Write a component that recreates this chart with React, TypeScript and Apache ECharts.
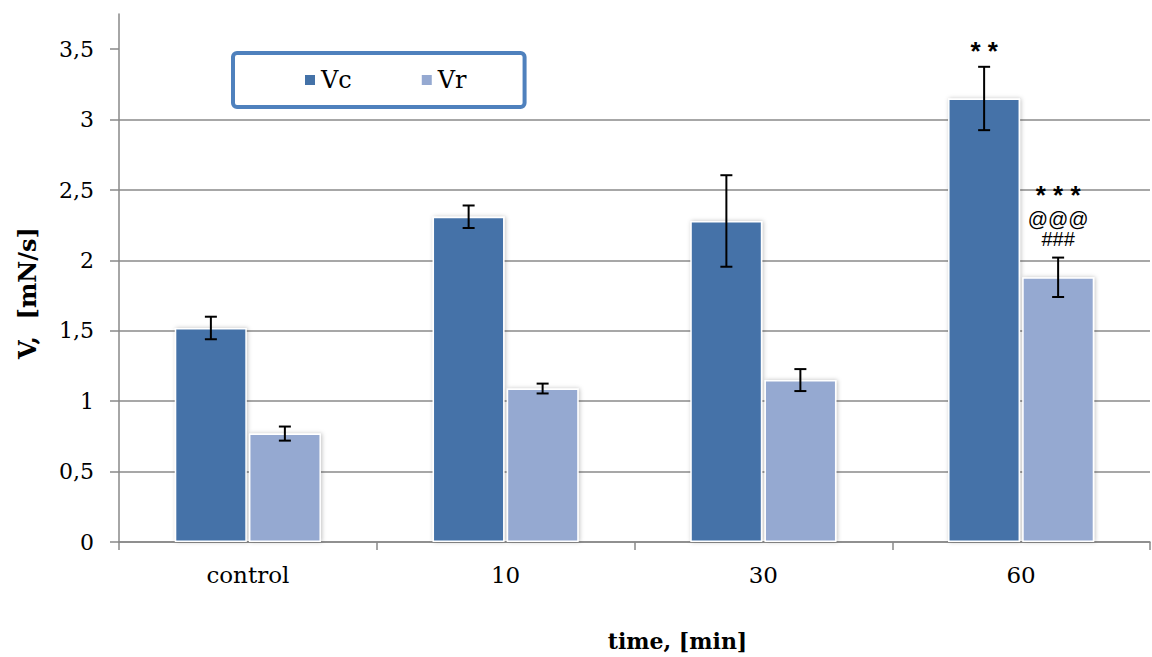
import React, { useEffect, useRef } from "react";
import * as echarts from "echarts";

const categories = ["control", "10", "30", "60"];
const vcValues = [1.52, 2.31, 2.28, 3.15];
const vcErrors = [0.08, 0.08, 0.325, 0.225];
const vrValues = [0.77, 1.09, 1.15, 1.88];
const vrErrors = [0.05, 0.035, 0.078, 0.14];
const yTicks = [0, 0.5, 1, 1.5, 2, 2.5, 3, 3.5];
// annotations: [categoryIndex, seriesIndex (0 = Vc, 1 = Vr), lines from top to bottom]
const annotations: [number, number, string[]][] = [
  [3, 0, ["* *"]],
  [3, 1, ["* * *", "@@@", "###"]],
];

const VC_COLOR = "#4472A8";
const VR_COLOR = "#95A9D1";
const BAR_W = 72;
const HALF_STEP = 37;

export default function App() {
  const ref = useRef<HTMLDivElement>(null);
  useEffect(() => {
    if (!ref.current) return;
    const chart = echarts.init(ref.current, null, { renderer: "svg" });
    const errData = (vals: number[], errs: number[]) =>
      vals.map((v, i) => [i, v, errs[i]]);
    const errSeries = (name: string, vals: number[], errs: number[], sign: number) => ({
      type: "custom",
      name: name + "err",
      z: 5,
      silent: true,
      data: errData(vals, errs),
      renderItem: (params: any, api: any) => {
        const ci = api.value(0);
        const v = api.value(1);
        const e = api.value(2);
        const top = api.coord([ci, v + e]);
        const bot = api.coord([ci, v - e]);
        const x = top[0] + sign * HALF_STEP;
        const cap = 6;
        const st = { stroke: "#000", lineWidth: 2 };
        return {
          type: "group",
          children: [
            { type: "line", shape: { x1: x, y1: top[1], x2: x, y2: bot[1] }, style: st },
            { type: "line", shape: { x1: x - cap, y1: top[1], x2: x + cap, y2: top[1] }, style: st },
            { type: "line", shape: { x1: x - cap, y1: bot[1], x2: x + cap, y2: bot[1] }, style: st },
          ],
        };
      },
    });
    const annData = annotations.map(([ci, si, lines]) => {
      const v = si === 0 ? vcValues[ci] + vcErrors[ci] : vrValues[ci] + vrErrors[ci];
      return [ci, v, si, lines.join("\n")];
    });
    const annSeries = {
      type: "custom",
      name: "annotations",
      z: 6,
      silent: true,
      data: annData,
      renderItem: (params: any, api: any) => {
        const d = annData[params.dataIndex];
        const ci = d[0] as number;
        const v = d[1] as number;
        const si = d[2] as number;
        const lines = (d[3] as string).split("\n");
        const p = api.coord([ci, v]);
        const x = p[0] + (si === 0 ? -HALF_STEP : HALF_STEP);
        const children: any[] = [];
        const n = lines.length;
        lines.forEach((t, k) => {
          const fromBottom = n - 1 - k;
          const isStar = t.indexOf("*") >= 0;
          let y: number;
          if (isStar) {
            // glyph centre sits ~9px below the top of its text box
            const target = fromBottom === 0 ? p[1] - 20 : p[1] - 67;
            y = target - 9;
          } else {
            y = p[1] - 19 - fromBottom * 20;
          }
          children.push({
            type: "text",
            x: x,
            y: y,
            style: {
              text: t,
              align: "center",
              verticalAlign: isStar ? "top" : "middle",
              fill: "#000",
              font: isStar ? "bold 26px 'Liberation Sans'" : "20px 'Liberation Sans'",
            },
          });
        });
        return { type: "group", children };
      },
    };

    chart.setOption({
      animation: false,
      backgroundColor: "#fff",
      textStyle: { fontFamily: "DejaVu Serif", color: "#000" },
      grid: { left: 119, right: 2, top: 14, bottom: 111 },
      legend: {
        left: 233,
        top: 53,
        data: ["Vc", "Vr"],
        icon: "rect",
        itemWidth: 12,
        itemHeight: 12,
        itemGap: 68,
        padding: [15, 58, 15, 70],
        borderColor: "#4F81BD",
        borderWidth: 4,
        borderRadius: 4,
        textStyle: { fontFamily: "DejaVu Serif", fontSize: 24, color: "#000" },
      },
      xAxis: {
        type: "category",
        data: categories,
        axisLine: { lineStyle: { color: "#888", width: 1.5 } },
        axisTick: { show: true, length: 8, lineStyle: { color: "#888", width: 1.5 } },
        axisLabel: { fontFamily: "DejaVu Serif", fontSize: 23, color: "#000", margin: 21 },
        name: "time, [min]",
        nameLocation: "middle",
        nameGap: 88,
        nameTextStyle: {
          fontFamily: "DejaVu Serif",
          fontWeight: "bold",
          fontSize: 22,
          color: "#000",
          padding: [0, 0, 0, 86],
        },
      },
      yAxis: {
        type: "value",
        min: 0,
        max: 3.75,
        interval: 0.5,
        axisLine: { show: true, lineStyle: { color: "#888", width: 1.5 } },
        axisTick: { show: true, length: 9, lineStyle: { color: "#888", width: 1.5 }, customValues: yTicks },
        splitLine: { show: true, showMaxLine: false, lineStyle: { color: "#8a8a8a", width: 1.5 } },
        axisLabel: {
          fontFamily: "DejaVu Serif",
          fontSize: 22,
          color: "#000",
          margin: 25,
          customValues: yTicks,
          formatter: (v: number) => String(v).replace(".", ","),
        },
        name: "V,  [mN/s]",
        nameLocation: "middle",
        nameGap: 80,
        nameRotate: 90,
        nameTextStyle: {
          fontFamily: "DejaVu Serif",
          fontWeight: "bold",
          fontSize: 24,
          color: "#000",
          padding: [0, 30, 0, 0],
        },
      },
      series: [
        {
          type: "bar",
          name: "Vc",
          data: vcValues,
          barWidth: BAR_W,
          barGap: "3%",
          itemStyle: {
            color: VC_COLOR,
            borderColor: "#fff",
            borderWidth: 1.5,
            shadowBlur: 4,
            shadowColor: "rgba(0,0,0,0.25)",
            shadowOffsetX: 1,
          },
        },
        {
          type: "bar",
          name: "Vr",
          data: vrValues,
          barWidth: BAR_W,
          barGap: "3%",
          itemStyle: {
            color: VR_COLOR,
            borderColor: "#fff",
            borderWidth: 1.5,
            shadowBlur: 4,
            shadowColor: "rgba(0,0,0,0.25)",
            shadowOffsetX: 1,
          },
        },
        errSeries("Vc", vcValues, vcErrors, -1),
        errSeries("Vr", vrValues, vrErrors, 1),
        annSeries,
      ],
    });
    return () => chart.dispose();
  }, []);
  return <div ref={ref} style={{ width: 1152, height: 657, position: "absolute", left: 0, top: 0 }} />;
}
